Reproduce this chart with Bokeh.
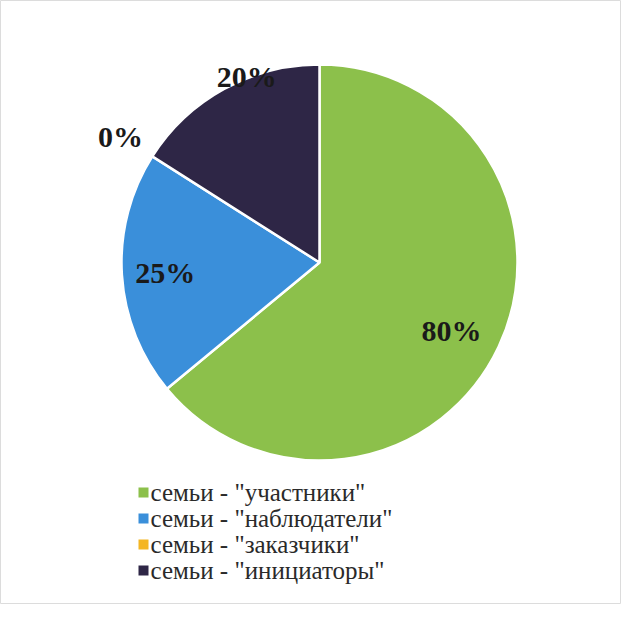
import numpy as np
from bokeh.plotting import figure
from bokeh.models import ColumnDataSource, Range1d
from bokeh.core.properties import value
from bokeh.embed import file_html
from bokeh.resources import INLINE

# ---- data ----
categories = ['семьи - "участники"', 'семьи - "наблюдатели"', 'семьи - "заказчики"', 'семьи - "инициаторы"']
values = [80, 25, 0, 20]
pct_labels = ["80%", "25%", "0%", "20%"]
colors = ["#8cc04b", "#3a8fda", "#f4b623", "#2e2646"]

# ---- styling / geometry ----
W, H = 621, 604
cx, cy, R = 319, 342, 198
label_r = [0.75, 0.78, 1.19, 1.01]
label_da = [-2.0, 0.0, 0.0, -7.5]   # degrees
SERIF = "Liberation Serif"
leg_x, leg_y0, leg_dy = 143, 112, 26

vals = np.array(values, dtype=float)
frac = vals / vals.sum()
cum = np.concatenate([[0.0], np.cumsum(frac)])
start = np.pi / 2 - cum[:-1] * 2 * np.pi
end = np.pi / 2 - cum[1:] * 2 * np.pi
mid = (start + end) / 2 + np.radians(label_da)
nz = vals > 0

src = ColumnDataSource(dict(
    x=[cx] * int(nz.sum()), y=[cy] * int(nz.sum()),
    start=start[nz], end=end[nz],
    color=[c for c, k in zip(colors, nz) if k],
))

p = figure(width=W, height=H, output_backend="svg", toolbar_location=None,
           x_range=Range1d(0, W), y_range=Range1d(0, H), min_border=0)
p.axis.visible = False
p.grid.visible = False
p.outline_line_color = "#dcdcdc"
p.background_fill_color = "white"
p.border_fill_color = "white"

p.wedge(x="x", y="y", radius=R, start_angle="start", end_angle="end",
        direction="clock", fill_color="color", line_color="white",
        line_width=2.5, source=src)

lx = cx + np.array(label_r) * R * np.cos(mid)
ly = cy + np.array(label_r) * R * np.sin(mid)
p.text(x=lx, y=ly, text=pct_labels, text_align="center", text_baseline="middle",
       text_font=value(SERIF), text_font_style="bold",
       text_font_size="30px", text_color="#1a1a1a")

# legend drawn from the category list
n = len(categories)
ly_leg = leg_y0 - leg_dy * np.arange(n)
p.rect(x=[leg_x] * n, y=ly_leg, width=10, height=10, fill_color=colors, line_color=None)
p.text(x=[leg_x + 7] * n, y=ly_leg, text=categories, text_align="left",
       text_baseline="middle", text_font=value(SERIF), text_font_size="25px",
       text_color="#2a2a2a")

open("out.html", "w").write(file_html(p, INLINE))
